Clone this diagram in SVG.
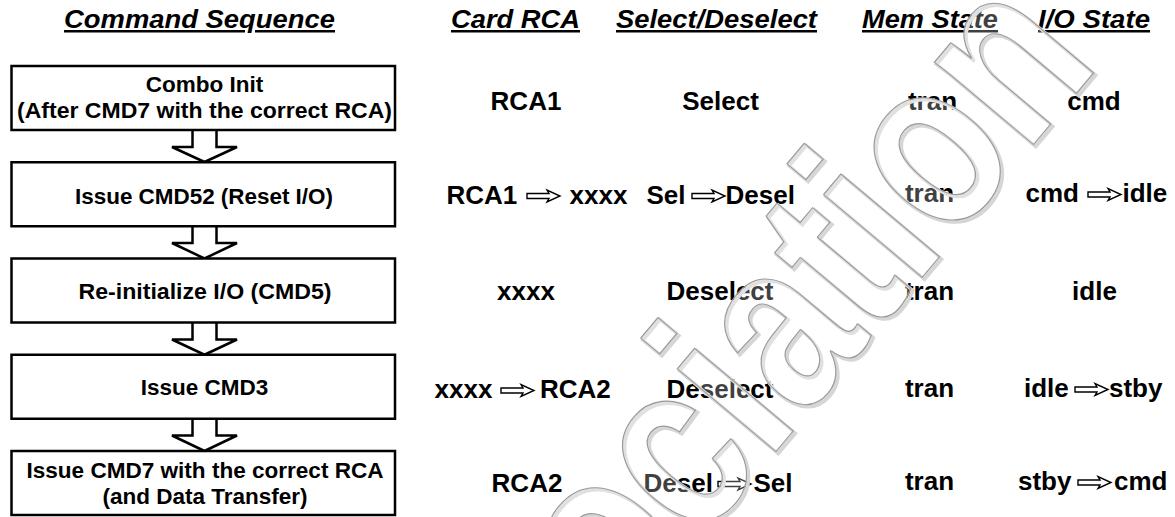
<svg xmlns="http://www.w3.org/2000/svg" width="1175" height="517" viewBox="0 0 1175 517">
<style>
.hdr{font-family:"Liberation Sans",Arial,sans-serif;font-weight:bold;font-style:italic;font-size:25px;text-decoration:underline;fill:#000}
.box{fill:#fff;stroke:#000;stroke-width:2.5}
.bt{font-family:"Liberation Sans",Arial,sans-serif;font-weight:bold;font-size:22.5px;text-anchor:middle;fill:#000}
.cell{font-family:"Liberation Sans",Arial,sans-serif;font-weight:bold;font-size:26px;fill:#000}
.c{text-anchor:middle}
.flow{fill:#fff;stroke:#000;stroke-width:2.5;stroke-linejoin:miter}
.da{fill:#fff;stroke:#000;stroke-width:1.4;stroke-linejoin:miter}
.wm{font-family:"Liberation Sans",Arial,sans-serif;font-weight:bold;font-size:195px;fill:#fff;fill-opacity:0.25;stroke:#9a9a9a;stroke-width:1}
.wms{font-family:"Liberation Sans",Arial,sans-serif;font-weight:bold;font-size:195px;fill:none;stroke:#d6d6d6;stroke-width:3.2}
</style>
<defs>
<path id="dbl" class="da" d="M0,-2.5 H22 L20,-6 L33,0 L20,6 L22,2.5 H0 Z"/>
</defs>
<rect width="1175" height="517" fill="#fff"/>

<g id="headers">
<text class="hdr" x="64" y="28" textLength="271" lengthAdjust="spacingAndGlyphs">Command Sequence</text>
<text class="hdr" x="451" y="28" textLength="129" lengthAdjust="spacingAndGlyphs">Card RCA</text>
<text class="hdr" x="616" y="28" textLength="201" lengthAdjust="spacingAndGlyphs">Select/Deselect</text>
<text class="hdr" x="862" y="28" textLength="136" lengthAdjust="spacingAndGlyphs">Mem State</text>
<text class="hdr" x="1038" y="28" textLength="112" lengthAdjust="spacingAndGlyphs">I/O State</text>
</g>

<g id="connectors">
<path class="flow" d="M192.5,130 V147 H172 L204.5,162 L237,147 H216.5 V130"/>
<path class="flow" d="M192.5,226.25 V243 H172 L204.5,258.5 L237,243 H216.5 V226.25"/>
<path class="flow" d="M192.5,322.5 V339.5 H172 L204.5,354.75 L237,339.5 H216.5 V322.5"/>
<path class="flow" d="M192.5,418.75 V435.5 H172 L204.5,451 L237,435.5 H216.5 V418.75"/>
</g>

<g id="n1">
<rect class="box" x="11.5" y="66" width="383.5" height="64"/>
<text class="bt" x="204.5" y="92">Combo Init</text>
<text class="bt" x="204.5" y="118" textLength="375" lengthAdjust="spacingAndGlyphs">(After CMD7 with the correct RCA)</text>
</g>
<g id="n2">
<rect class="box" x="11.5" y="162.25" width="383.5" height="64"/>
<text class="bt" x="204" y="204" textLength="258" lengthAdjust="spacingAndGlyphs">Issue CMD52 (Reset I/O)</text>
</g>
<g id="n3">
<rect class="box" x="11.5" y="258.5" width="383.5" height="64"/>
<text class="bt" x="205" y="299" textLength="253" lengthAdjust="spacingAndGlyphs">Re-initialize I/O (CMD5)</text>
</g>
<g id="n4">
<rect class="box" x="11.5" y="354.75" width="383.5" height="64"/>
<text class="bt" x="204.5" y="395">Issue CMD3</text>
</g>
<g id="n5">
<rect class="box" x="11.5" y="451" width="383.5" height="64"/>
<text class="bt" x="205" y="478" textLength="357" lengthAdjust="spacingAndGlyphs">Issue CMD7 with the correct RCA</text>
<text class="bt" x="205" y="504">(and Data Transfer)</text>
</g>

<g id="row1">
<text class="cell c" x="526" y="110">RCA1</text>
<text class="cell c" x="720.5" y="110">Select</text>
<text class="cell c" x="932.5" y="110">tran</text>
<text class="cell c" x="1094" y="110">cmd</text>
</g>
<g id="row2">
<text class="cell" x="446.5" y="203.5">RCA1</text>
<use href="#dbl" x="527" y="196"/>
<text class="cell" x="569.5" y="203.5">xxxx</text>
<text class="cell" x="646.5" y="203.5">Sel</text>
<use href="#dbl" x="692" y="196"/>
<text class="cell" x="725.5" y="203.5">Desel</text>
<text class="cell c" x="929.5" y="202">tran</text>
<text class="cell" x="1025.5" y="202">cmd</text>
<use href="#dbl" x="1088" y="194.5"/>
<text class="cell" x="1122.5" y="202">idle</text>
</g>
<g id="row3">
<text class="cell c" x="526" y="300">xxxx</text>
<text class="cell c" x="720" y="300">Deselect</text>
<text class="cell c" x="929.5" y="300">tran</text>
<text class="cell c" x="1094.5" y="300">idle</text>
</g>
<g id="row4">
<text class="cell" x="434.5" y="398">xxxx</text>
<use href="#dbl" x="501" y="390.5"/>
<text class="cell" x="540" y="398">RCA2</text>
<text class="cell c" x="720" y="398">Deselect</text>
<text class="cell c" x="929.5" y="397">tran</text>
<text class="cell" x="1024" y="397">idle</text>
<use href="#dbl" x="1075" y="389.5"/>
<text class="cell" x="1109" y="397">stby</text>
</g>
<g id="row5">
<text class="cell c" x="527" y="491.5">RCA2</text>
<text class="cell" x="643.5" y="491.5">Desel</text>
<use href="#dbl" x="718" y="484"/>
<text class="cell" x="753.5" y="491.5">Sel</text>
<text class="cell c" x="929.5" y="490">tran</text>
<text class="cell" x="1018" y="490">stby</text>
<use href="#dbl" x="1078" y="482.5"/>
<text class="cell" x="1114" y="490">cmd</text>
</g>

<g id="watermark">
<text class="wms" transform="translate(393,912.3) rotate(-50) scale(1,1.25)">Association</text>
<text class="wm" transform="translate(391,910.3) rotate(-50) scale(1,1.25)">Association</text>
</g>
</svg>
